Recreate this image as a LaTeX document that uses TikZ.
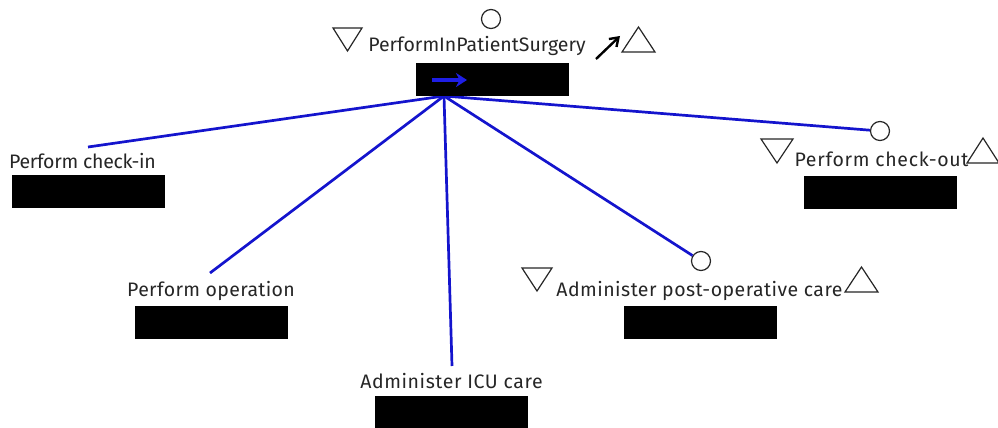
\documentclass[tikz,border=0pt]{standalone}
\usepackage{fontspec}
\setmainfont{Fira Sans}
\usetikzlibrary{arrows.meta}
\definecolor{linkblue}{RGB}{20,20,205}
\definecolor{arrowblue}{RGB}{30,30,230}
\newcommand{\spaced}[2]{{\addfontfeature{LetterSpace=#1}#2}}
\begin{document}
\begin{tikzpicture}[x=1pt,y=-1pt,
  link/.style={draw=linkblue, line width=2.7pt},
  blackbox/.style={fill=black, draw=none, minimum width=153pt, minimum height=33pt, inner sep=0pt},
  lbl/.style={inner sep=0pt, font=\fontsize{19.5}{22}\selectfont, text=black!85},
  port/.style={circle, draw=black!85, line width=1.2pt, minimum size=19pt, inner sep=0pt},
  tri/.style={draw=black!85, line width=1.2pt, fill=white}
]
\useasboundingbox (0,0) rectangle (998,428);

% hub where the links meet
\coordinate (hub) at (444,96);

% black bars
\node[blackbox] (topbox) at (492,79.5) {};
\node[blackbox] (checkinbox) at (88.5,191.5) {};
\node[blackbox] (opbox) at (211.5,322.5) {};
\node[blackbox] (icubox) at (451,412) {};
\node[blackbox] (postbox) at (700,322) {};
\node[blackbox] (checkoutbox) at (880,192) {};

% labels
\node[lbl] (toplbl) at (477,46) {PerformInPatientSurgery};
\node[lbl] (checkinlbl) at (82.5,161) {\spaced{-1.5}{Perform check-in}};
\node[lbl] (oplbl) at (211,291) {\spaced{1.8}{Perform operation}};
\node[lbl] (iculbl) at (451.5,381) {\spaced{3}{Administer ICU care}};
\node[lbl] (postlbl) at (699.5,291) {\spaced{2.4}{Administer post-operative care}};
\node[lbl] (checkoutlbl) at (881.5,159) {\spaced{3.5}{Perform check-out}};

% ports
\node[port] (topport) at (491,19) {};
\node[port] (postport) at (701,261) {};
\node[port] (checkoutport) at (880,131) {};

% link end points above the labels
\coordinate (checkinend) at (88,147);
\coordinate (opend) at (210,273);
\coordinate (icuend) at (452,366);

% links
\draw[link] (hub) -- (checkinend);
\draw[link] (hub) -- (opend);
\draw[link] (hub) -- (icuend);
\draw[link] (hub) -- (postport);
\draw[link] (hub) -- (checkoutport);

% redraw top bar over the link ends
\node[blackbox] at (492,79.5) {};
\draw[draw=arrowblue, line width=3.5pt, -{Stealth[length=11pt,width=14pt]}] (432,80) -- (467,80);

% triangles
\draw[tri] (333,28) -- (362,28) -- (347.5,51) -- cycle;
\draw[tri] (622,52) -- (655,52) -- (638.5,27) -- cycle;
\draw[black, line width=2.4pt, -{Straight Barb[length=8pt,width=11pt]}] (596,59) -- (620,36);

\draw[tri] (522,268) -- (552,268) -- (537,291) -- cycle;
\draw[tri] (845,292) -- (878,292) -- (861.5,267) -- cycle;

\draw[tri] (761,139) -- (793,139) -- (777,163) -- cycle;
\draw[tri] (967,163) -- (999,163) -- (983,138) -- cycle;
\end{tikzpicture}
\end{document}
